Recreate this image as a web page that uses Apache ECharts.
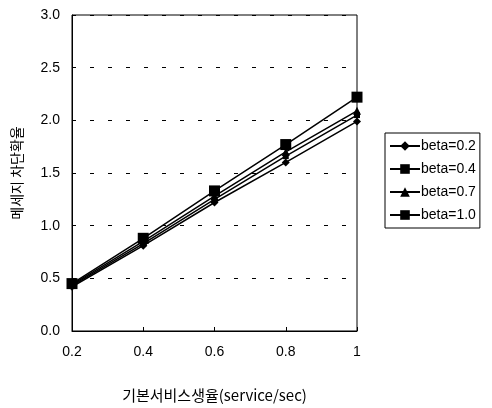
<!DOCTYPE html>
<html><head><meta charset="utf-8">
<script src="https://cdn.jsdelivr.net/npm/echarts@6/dist/echarts.min.js"></script>
<style>html,body{margin:0;padding:0;background:#fff}#c{width:492px;height:408px}</style>
</head><body><div id="c"></div>
<script>
const xValues = [0.2, 0.4, 0.6, 0.8, 1.0];
const beta02 = [0.42, 0.81, 1.22, 1.60, 1.99];
const beta04 = [0.43, 0.83, 1.25, 1.66, 2.05];
const beta07 = [0.44, 0.85, 1.28, 1.70, 2.09];
const beta10 = [0.45, 0.88, 1.33, 1.77, 2.22];
const seriesNames = ['beta=0.2', 'beta=0.4', 'beta=0.7', 'beta=1.0'];
const yTicks = [0, 0.5, 1.0, 1.5, 2.0, 2.5, 3.0];

const font = 'Liberation Sans, Arial, sans-serif';
function pairs(arr){ return xValues.map((x,i)=>[x, arr[i]]); }
function mk(name, data, symbol, size){
  return {name, type:'line', data:pairs(data), symbol, symbolSize:size,
    lineStyle:{color:'#000', width:1.5}, itemStyle:{color:'#000'}, animation:false};
}
const chart = echarts.init(document.getElementById('c'));
chart.setOption({
  animation:false,
  grid:{left:72, right:135, top:15, bottom:75, show:true, borderColor:'#000', borderWidth:1, backgroundColor:'transparent'},
  xAxis:{type:'value', min:0.2, max:1, interval:0.2,
    name:'기본서비스생율(service/sec)', nameLocation:'middle', nameGap:57,
    nameTextStyle:{fontSize:15, color:'#000', fontFamily:'Noto Sans CJK KR, ' + font},
    axisLine:{lineStyle:{color:'#000'}}, axisTick:{inside:true, length:4, lineStyle:{color:'#000'}},
    axisLabel:{color:'#000', fontSize:14, fontFamily:font, margin:14,
      formatter:v=>String(+v.toFixed(1))},
    splitLine:{show:false}},
  yAxis:{type:'value', min:0, max:3, interval:0.5,
    name:'메세지 차단확율', nameLocation:'middle', nameGap:48,
    nameTextStyle:{fontSize:14, color:'#000', fontFamily:'Noto Sans CJK KR, ' + font},
    axisLine:{lineStyle:{color:'#000'}}, axisTick:{inside:true, length:4, lineStyle:{color:'#000'}},
    axisLabel:{color:'#000', fontSize:14, fontFamily:font, margin:12, formatter:v=>v.toFixed(1)},
    splitLine:{show:true, lineStyle:{color:'#000', type:[4,14], width:1}}},
  legend:{orient:'vertical', left:385, top:133, data:seriesNames,
    backgroundColor:'#fff', borderColor:'#000', borderWidth:1, padding:[6,4,6,4],
    itemGap:9, itemWidth:30, itemHeight:12,
    textStyle:{fontSize:14, color:'#000', fontFamily:font, padding:[0,0,0,-4]}},
  series:[
    mk(seriesNames[0], beta02, 'diamond', 8),
    mk(seriesNames[1], beta04, 'rect', 6),
    mk(seriesNames[2], beta07, 'triangle', 8),
    mk(seriesNames[3], beta10, 'rect', 11)
  ]
});
</script></body></html>
